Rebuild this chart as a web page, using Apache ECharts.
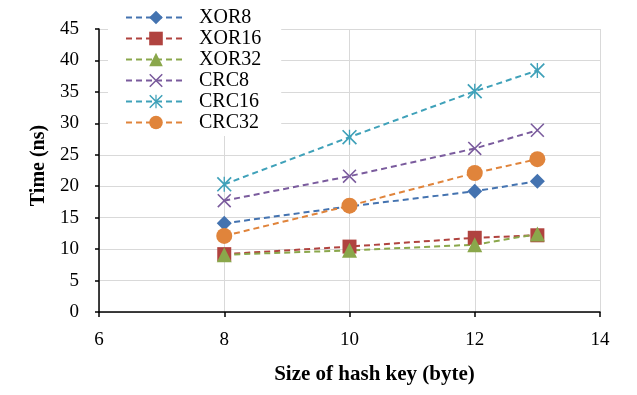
<!DOCTYPE html>
<html>
<head>
<meta charset="utf-8">
<script src="https://cdn.jsdelivr.net/npm/echarts@6/dist/echarts.min.js"></script>
<style>html,body{margin:0;padding:0;background:#fff}#c{width:637px;height:395px}</style>
</head>
<body>
<div id="c"></div>
<script>
var keySizes = [8, 10, 12, 13];
var seriesNames = ['XOR8', 'XOR16', 'XOR32', 'CRC8', 'CRC16', 'CRC32'];
var xor8 = [14.1, 16.8, 19.2, 20.8];
var xor16 = [9.2, 10.4, 11.8, 12.2];
var xor32 = [9.1, 9.8, 10.7, 12.4];
var crc8 = [17.7, 21.6, 26.0, 28.9];
var crc16 = [20.3, 27.8, 35.1, 38.4];
var crc32 = [12.1, 16.9, 22.1, 24.3];
var xTicks = [6, 8, 10, 12, 14];
var yTicks = [0, 5, 10, 15, 20, 25, 30, 35, 40, 45];

var colors = ['#4473b0', '#b0433f', '#8aa74b', '#7a5b9d', '#3fa1b9', '#e0843b'];
var crossPath = 'path://M0,1.6L1.6,0L20,18.4L18.4,20ZM18.4,0L20,1.6L1.6,20L0,18.4Z';
var starPath = 'path://M0,1.6L1.6,0L20,18.4L18.4,20ZM18.4,0L20,1.6L1.6,20L0,18.4ZM9.1,0L10.9,0L10.9,20L9.1,20Z';
var symbols = ['diamond', 'rect', 'triangle', crossPath, starPath, 'circle'];
var sizes = [15, 14, 15, 14, 15, 16];
var values = [xor8, xor16, xor32, crc8, crc16, crc32];

var serif = '"Liberation Serif", "Times New Roman", serif';

var series = seriesNames.map(function (n, i) {
  return {
    name: n,
    type: 'line',
    data: keySizes.map(function (k, j) { return [k, values[i][j]]; }),
    symbol: symbols[i],
    symbolSize: sizes[i],
    showAllSymbol: true,
    lineStyle: { color: colors[i], width: 2, type: [6, 4] },
    itemStyle: { color: colors[i] },
    emphasis: { disabled: true },
    animation: false
  };
});

var chart = echarts.init(document.getElementById('c'));
chart.setOption({
  animation: false,
  color: colors,
  grid: { left: 99, right: 37, top: 29, bottom: 83, containLabel: false },
  legend: {
    data: seriesNames,
    orient: 'vertical',
    left: 108,
    top: 7,
    padding: [0, 20, 3, 17],
    backgroundColor: '#ffffff',
    itemWidth: 60,
    itemHeight: 17,
    itemGap: 0,
    textStyle: { fontFamily: serif, fontSize: 20, color: '#000', lineHeight: 21, padding: [0, 0, 0, 8] }
  },
  xAxis: {
    type: 'value',
    min: 6, max: 14, interval: 2,
    name: 'Size of hash key (byte)',
    nameLocation: 'middle',
    nameGap: 52,
    nameTextStyle: { fontFamily: serif, fontSize: 21, fontWeight: 'bold', color: '#000', padding: [0, 0, 0, 50] },
    axisLine: { show: true, onZero: false, lineStyle: { color: '#000', width: 1.5 } },
    axisTick: { show: true, length: 5, lineStyle: { color: '#000', width: 1.5 } },
    axisLabel: { margin: 19, fontFamily: serif, fontSize: 19, color: '#000' },
    splitLine: { show: true, lineStyle: { color: '#d9d9d9', width: 1 } }
  },
  yAxis: {
    type: 'value',
    min: 0, max: 45, interval: 5,
    name: 'Time (ns)',
    nameLocation: 'middle',
    nameGap: 44,
    nameTextStyle: { fontFamily: serif, fontSize: 20, fontWeight: 'bold', color: '#000', padding: [0, 0, 0, 10] },
    axisLine: { show: true, lineStyle: { color: '#000', width: 1.5 } },
    axisTick: { show: true, length: 4, lineStyle: { color: '#000', width: 1.5 } },
    axisLabel: { margin: 20, fontFamily: serif, fontSize: 19, color: '#000' },
    splitLine: { show: true, lineStyle: { color: '#d9d9d9', width: 1 } }
  },
  series: series
});
</script>
</body>
</html>
